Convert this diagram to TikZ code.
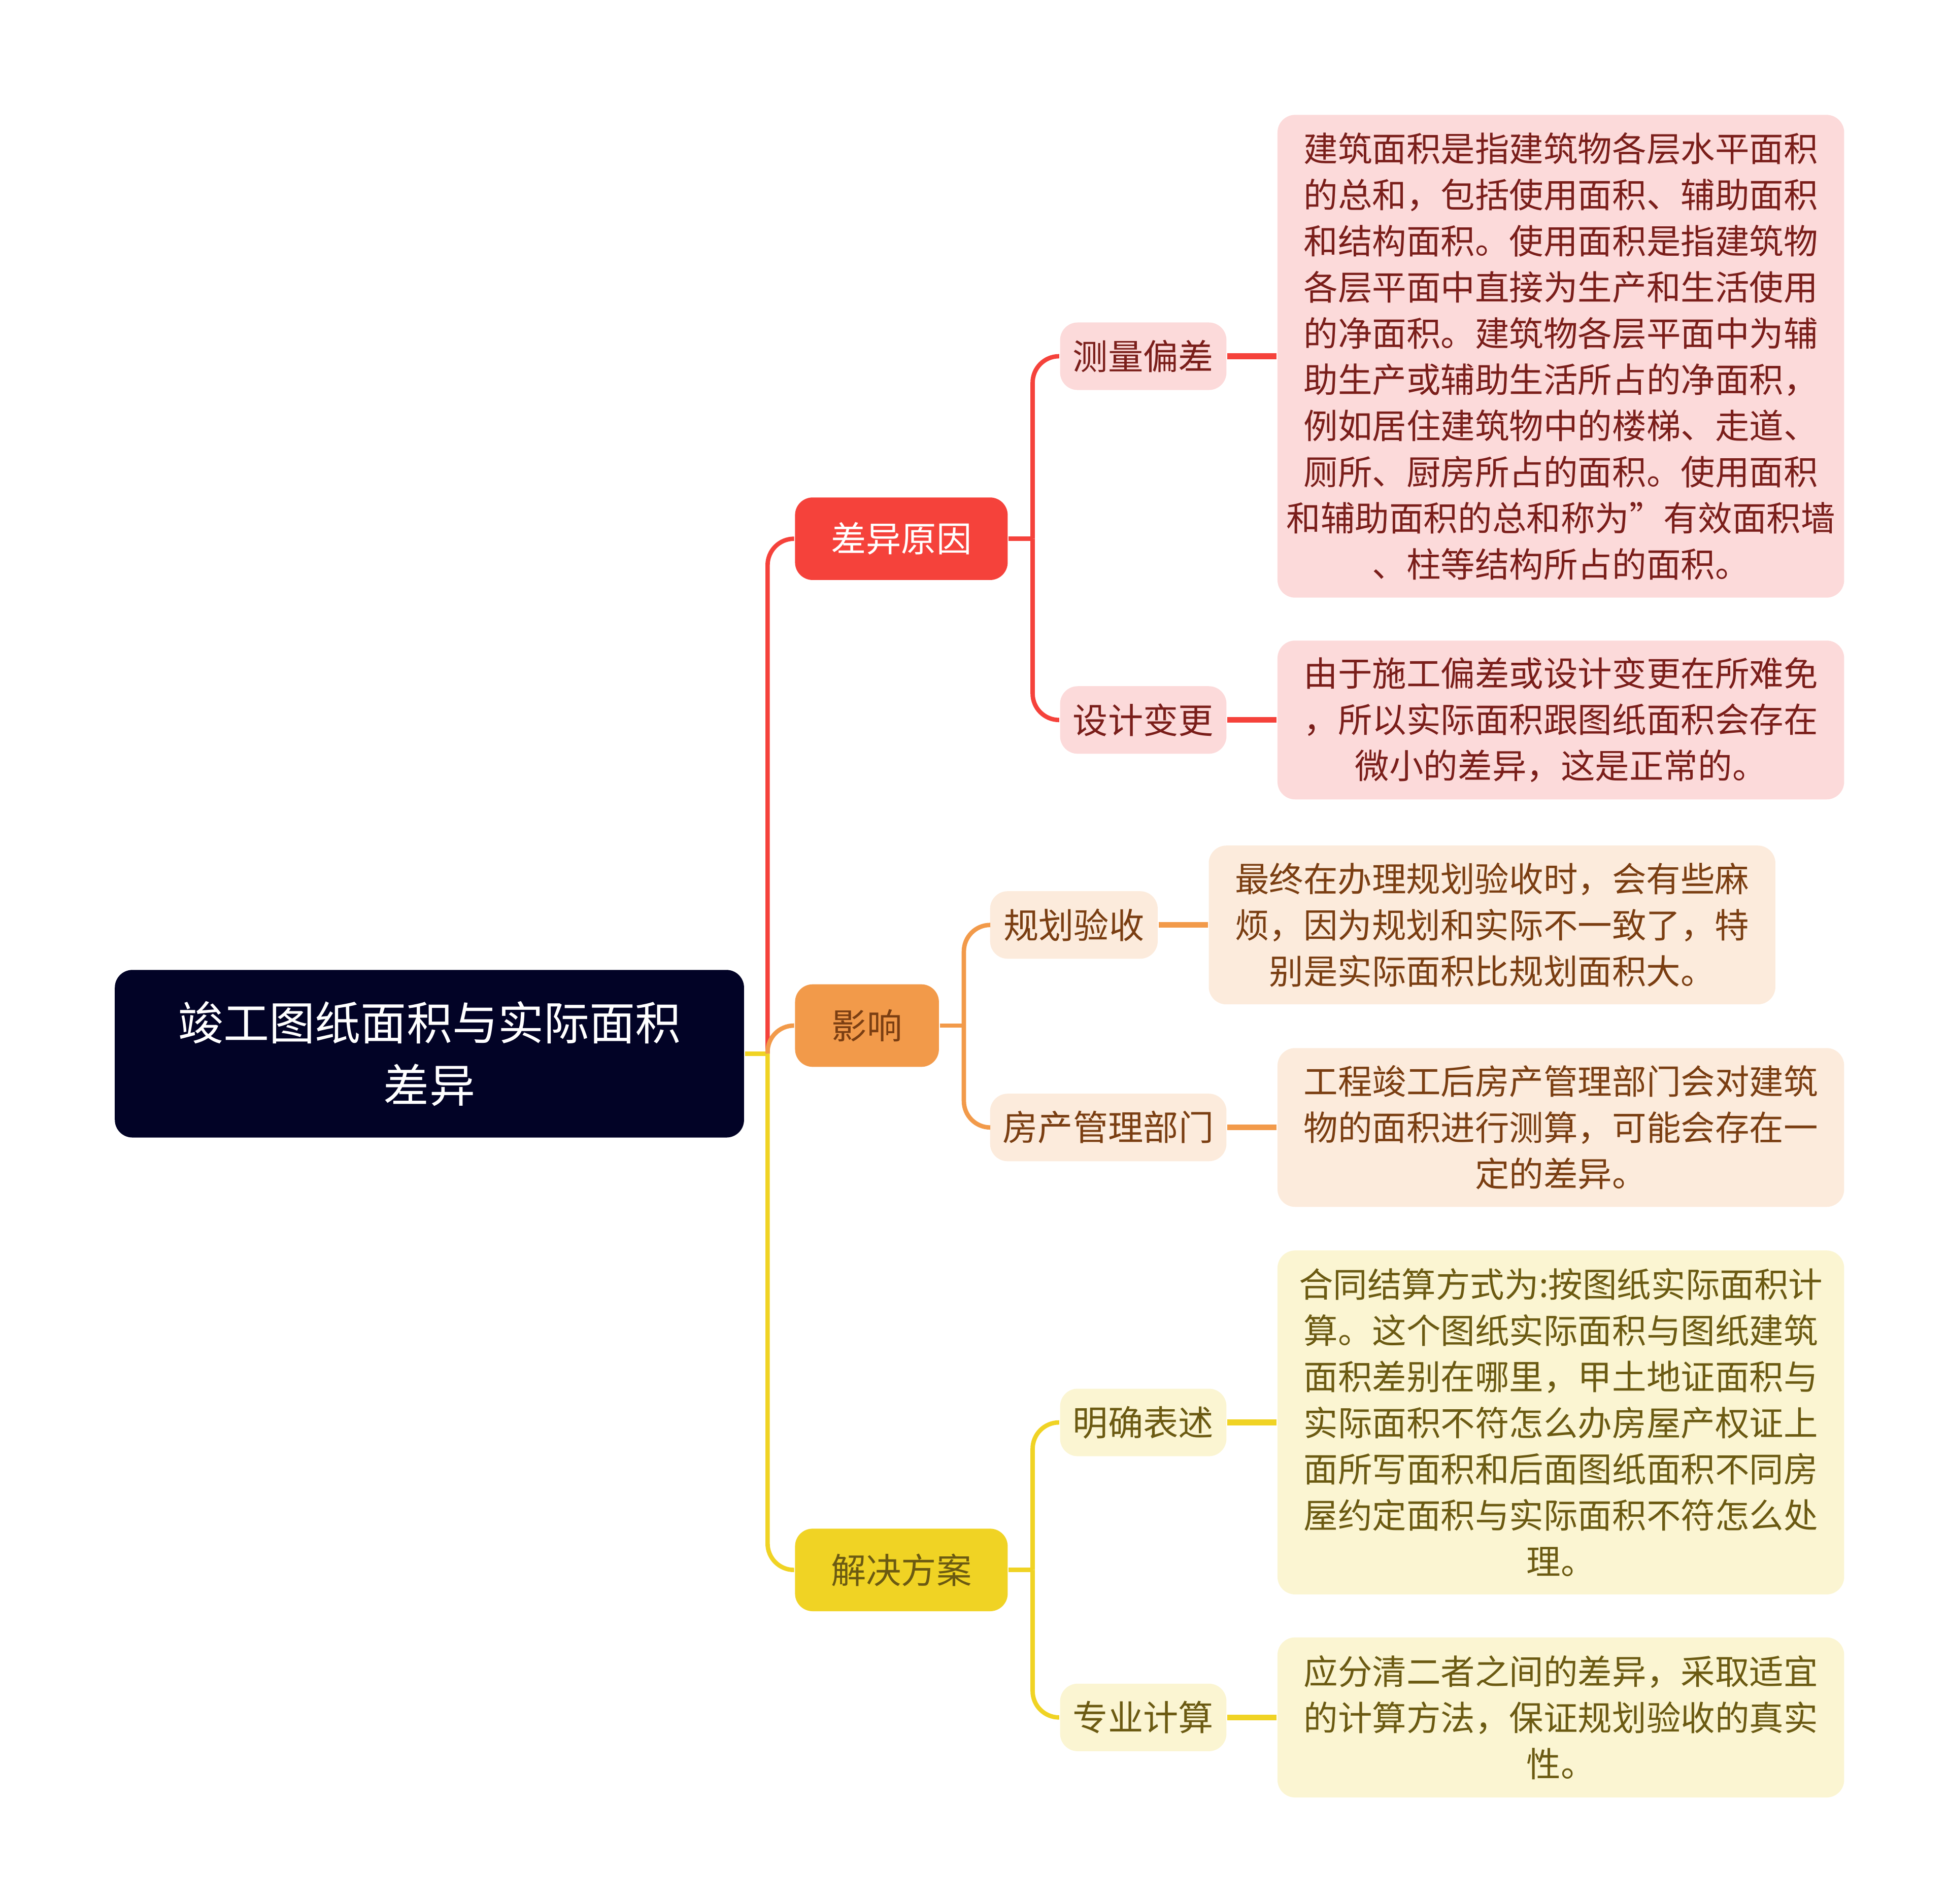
\documentclass[tikz,border=0pt]{standalone}
\usepackage{fontspec}
\setmainfont{Noto Sans CJK SC}
\usetikzlibrary{positioning}
\definecolor{rootbg}{HTML}{020326}
\definecolor{redm}{HTML}{F5423B}
\definecolor{redl}{HTML}{FCDADA}
\definecolor{redt}{HTML}{7A1E1A}
\definecolor{orm}{HTML}{F29A4A}
\definecolor{orl}{HTML}{FCEBDC}
\definecolor{ort}{HTML}{7A3E12}
\definecolor{yem}{HTML}{F0D324}
\definecolor{yel}{HTML}{FBF5D2}
\definecolor{yet}{HTML}{6B5A12}
\tikzset{
  box/.style={rounded corners=4pt, inner sep=0pt, align=center},
  mainbox/.style={box, minimum height=0.66cm, font=\fontsize{8}{10}\selectfont},
  subbox/.style={box, minimum height=0.54cm, font=\fontsize{8}{10}\selectfont},
  leafbox/.style={box, font=\fontsize{7.8}{10.5}\selectfont},
  link/.style={line width=1pt, rounded corners=6pt},
  leaflink/.style={line width=1.3pt}
}
\begin{document}
\begin{tikzpicture}[x=0.01cm, y=-0.01cm]
  \useasboundingbox (0,0) rectangle (1559,1523);
  % root
  \node[box, fill=rootbg, text=white, minimum width=5.03cm, minimum height=1.34cm,
        font=\fontsize{10.4}{14.2}\selectfont] (root) at (343.5,843) {竣工图纸面积与实际面积\\差异};
  % main branches
  \node[mainbox, fill=redm, text=white, minimum width=1.70cm] (cause) at (721,431) {差异原因};
  \node[mainbox, fill=orm, text=ort, minimum width=1.15cm] (effect) at (693.5,820.5) {影响};
  \node[mainbox, fill=yem, text=yet, minimum width=1.70cm] (plan) at (721,1256) {解决方案};
  % sub branches
  \node[subbox, fill=redl, text=redt, minimum width=1.33cm] (measure) at (914.5,285) {测量偏差};
  \node[subbox, fill=redl, text=redt, minimum width=1.33cm] (design) at (914.5,576) {设计变更};
  \node[subbox, fill=orl, text=ort, minimum width=1.34cm] (accept) at (859,740) {规划验收};
  \node[subbox, fill=orl, text=ort, minimum width=1.89cm] (dept) at (886.5,902) {房产管理部门};
  \node[subbox, fill=yel, text=yet, minimum width=1.33cm] (state) at (914.5,1138) {明确表述};
  \node[subbox, fill=yel, text=yet, minimum width=1.33cm] (calc) at (914.5,1374) {专业计算};
  % leaves
  \node[leafbox, fill=redl, text=redt, minimum width=4.53cm, minimum height=3.86cm] (measuretxt) at (1248.5,285)
    {建筑面积是指建筑物各层水平面积\\的总和，包括使用面积、辅助面积\\和结构面积。使用面积是指建筑物\\各层平面中直接为生产和生活使用\\的净面积。建筑物各层平面中为辅\\助生产或辅助生活所占的净面积，\\例如居住建筑物中的楼梯、走道、\\厕所、厨房所占的面积。使用面积\\和辅助面积的总和称为"有效面积墙\\、柱等结构所占的面积。};
  \node[leafbox, fill=redl, text=redt, minimum width=4.53cm, minimum height=1.27cm] (designtxt) at (1248.5,576)
    {由于施工偏差或设计变更在所难免\\，所以实际面积跟图纸面积会存在\\微小的差异，这是正常的。};
  \node[leafbox, fill=orl, text=ort, minimum width=4.53cm, minimum height=1.27cm] (accepttxt) at (1193.5,740)
    {最终在办理规划验收时，会有些麻\\烦，因为规划和实际不一致了，特\\别是实际面积比规划面积大。};
  \node[leafbox, fill=orl, text=ort, minimum width=4.53cm, minimum height=1.27cm] (depttxt) at (1248.5,902)
    {工程竣工后房产管理部门会对建筑\\物的面积进行测算，可能会存在一\\定的差异。};
  \node[leafbox, fill=yel, text=yet, minimum width=4.53cm, minimum height=2.75cm] (statetxt) at (1248.5,1138)
    {合同结算方式为:按图纸实际面积计\\算。这个图纸实际面积与图纸建筑\\面积差别在哪里，甲土地证面积与\\实际面积不符怎么办房屋产权证上\\面所写面积和后面图纸面积不同房\\屋约定面积与实际面积不符怎么处\\理。};
  \node[leafbox, fill=yel, text=yet, minimum width=4.53cm, minimum height=1.28cm] (calctxt) at (1248.5,1374)
    {应分清二者之间的差异，采取适宜\\的计算方法，保证规划验收的真实\\性。};
  % trunk
  \coordinate (trunk) at (614,843);
  \draw[link, yem] (root.east) -- (trunk);
  \draw[link, redm] (trunk) |- (cause.west);
  \draw[link, orm] (trunk) |- (effect.west);
  \draw[link, yem] (trunk) |- (plan.west);
  % second level
  \coordinate (causej) at (826,431);
  \draw[link, redm] (cause.east) -- (causej);
  \draw[link, redm] (causej) |- (measure.west);
  \draw[link, redm] (causej) |- (design.west);
  \coordinate (effectj) at (771,820.5);
  \draw[link, orm] (effect.east) -- (effectj);
  \draw[link, orm] (effectj) |- (accept.west);
  \draw[link, orm] (effectj) |- (dept.west);
  \coordinate (planj) at (826,1256);
  \draw[link, yem] (plan.east) -- (planj);
  \draw[link, yem] (planj) |- (state.west);
  \draw[link, yem] (planj) |- (calc.west);
  % leaf links
  \draw[leaflink, redm] (measure) -- (measuretxt);
  \draw[leaflink, redm] (design) -- (designtxt);
  \draw[leaflink, orm] (accept) -- (accepttxt);
  \draw[leaflink, orm] (dept) -- (depttxt);
  \draw[leaflink, yem] (state) -- (statetxt);
  \draw[leaflink, yem] (calc) -- (calctxt);
\end{tikzpicture}
\end{document}
